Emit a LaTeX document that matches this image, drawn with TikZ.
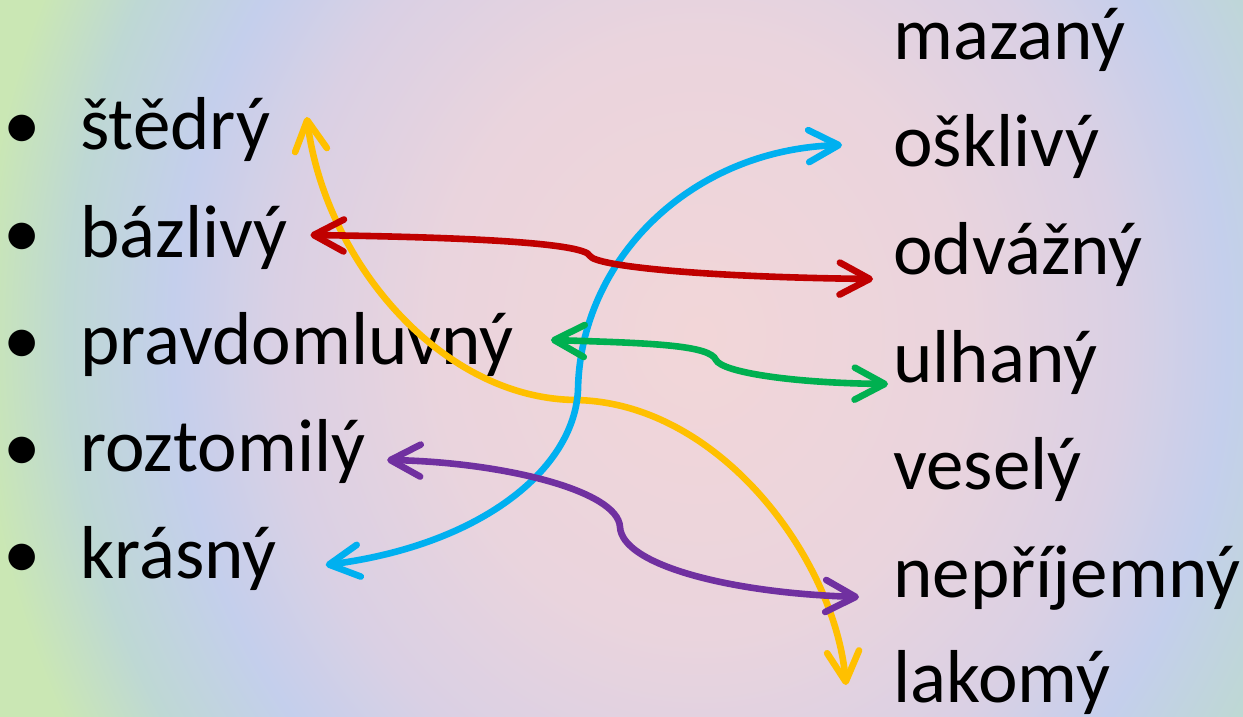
\documentclass[tikz,border=0pt]{standalone}
\usepackage{fontspec}
\setmainfont{Carlito}
\usepackage{tikz}
\usetikzlibrary{arrows.meta}
\usepackage{xcolor}
\definecolor{dfyellow}{RGB}{255,192,0}
\definecolor{dfblue}{RGB}{0,176,240}
\definecolor{dfred}{RGB}{192,0,0}
\definecolor{dfgreen}{RGB}{0,176,80}
\definecolor{dfpurple}{RGB}{112,48,160}
\definecolor{bgpink}{RGB}{242,214,216}
\definecolor{bgrose}{RGB}{234,212,221}
\definecolor{bglav}{RGB}{218,208,228}
\definecolor{bgblue}{RGB}{196,207,236}
\definecolor{bgteal}{RGB}{190,216,212}
\definecolor{bggreen}{RGB}{202,231,180}
\pgfdeclareradialshading{slidebg}{\pgfpoint{0bp}{0bp}}{color(0bp)=(bgpink); color(7.5bp)=(bgrose); color(12bp)=(bglav); color(15bp)=(bgblue); color(18bp)=(bgteal); color(20.5bp)=(bggreen); color(50bp)=(bggreen)}
\tikzstyle{word} = [anchor=base west, inner sep=0pt, font=\fontsize{37.5}{45}\selectfont]
\tikzstyle{dot} = [anchor=base, inner sep=0pt, font=\fontsize{37.5}{45}\selectfont]
\tikzstyle{link} = [line width=3.3pt, line cap=round, {Straight Barb[length=15pt,width=16pt,round]}-{Straight Barb[length=15pt,width=16pt,round]}]

\begin{document}
\begin{tikzpicture}[x=0.5pt, y=-0.5pt]
% Slide background
\useasboundingbox (0,0) rectangle (1243,717);
\clip (0,0) rectangle (1243,717);
\shade[shading=slidebg] (700,335) ellipse (880 and 1000);

% Left list
\foreach \y [count=\i] in {150,257,364,471,578}
  \node[dot] (dot\i) at (22,\y) {•};
\node[word] (stedry) at (80,150) {štědrý};
\node[word] (bazlivy) at (80,257) {bázlivý};
\node[word] (pravdomluvny) at (80,364) {pravdomluvný};
\node[word] (roztomily) at (80,471) {roztomilý};
\node[word] (krasny) at (80,578) {krásný};

% Right list
\node[word] (mazany) at (893,60) {mazaný};
\node[word] (osklivy) at (893,167) {ošklivý};
\node[word] (odvazny) at (893,274) {odvážný};
\node[word] (ulhany) at (893,382) {ulhaný};
\node[word] (vesely) at (893,489) {veselý};
\node[word] (neprijemny) at (893,597) {nepříjemný};
\node[word] (lakomy) at (893,702) {lakomý};

% Pairs of opposites
\draw[link, dfyellow] ([shift={(36,-33)}]stedry.base east) .. controls (325,260) and (440,398) .. (575,400)
  .. controls (720,402) and (835,560) .. ([shift={(-47,-17)}]lakomy.base west);
\draw[link, dfblue] ([shift={(-51,-22)}]osklivy.base west) .. controls (690,150) and (580,260) .. (578,390)
  .. controls (574,470) and (480,545) .. ([shift={(49,-13)}]krasny.base east);
\draw[link, dfred] ([shift={(22,-22)}]bazlivy.base east) .. controls (450,237) and (585,242) .. (590,256)
  .. controls (596,266) and (700,277) .. ([shift={(-20,5)}]odvazny.base west);
\draw[link, dfgreen] ([shift={(37,-24)}]pravdomluvny.base east) .. controls (650,343) and (710,345) .. (716,360)
  .. controls (722,372) and (790,383) .. ([shift={(-5,2)}]ulhany.base west);
\draw[link, dfpurple] ([shift={(21,-11)}]roztomily.base east) .. controls (500,462) and (618,490) .. (620,527)
  .. controls (622,565) and (730,593) .. ([shift={(-34,0)}]neprijemny.base west);
\end{tikzpicture}
\end{document}
